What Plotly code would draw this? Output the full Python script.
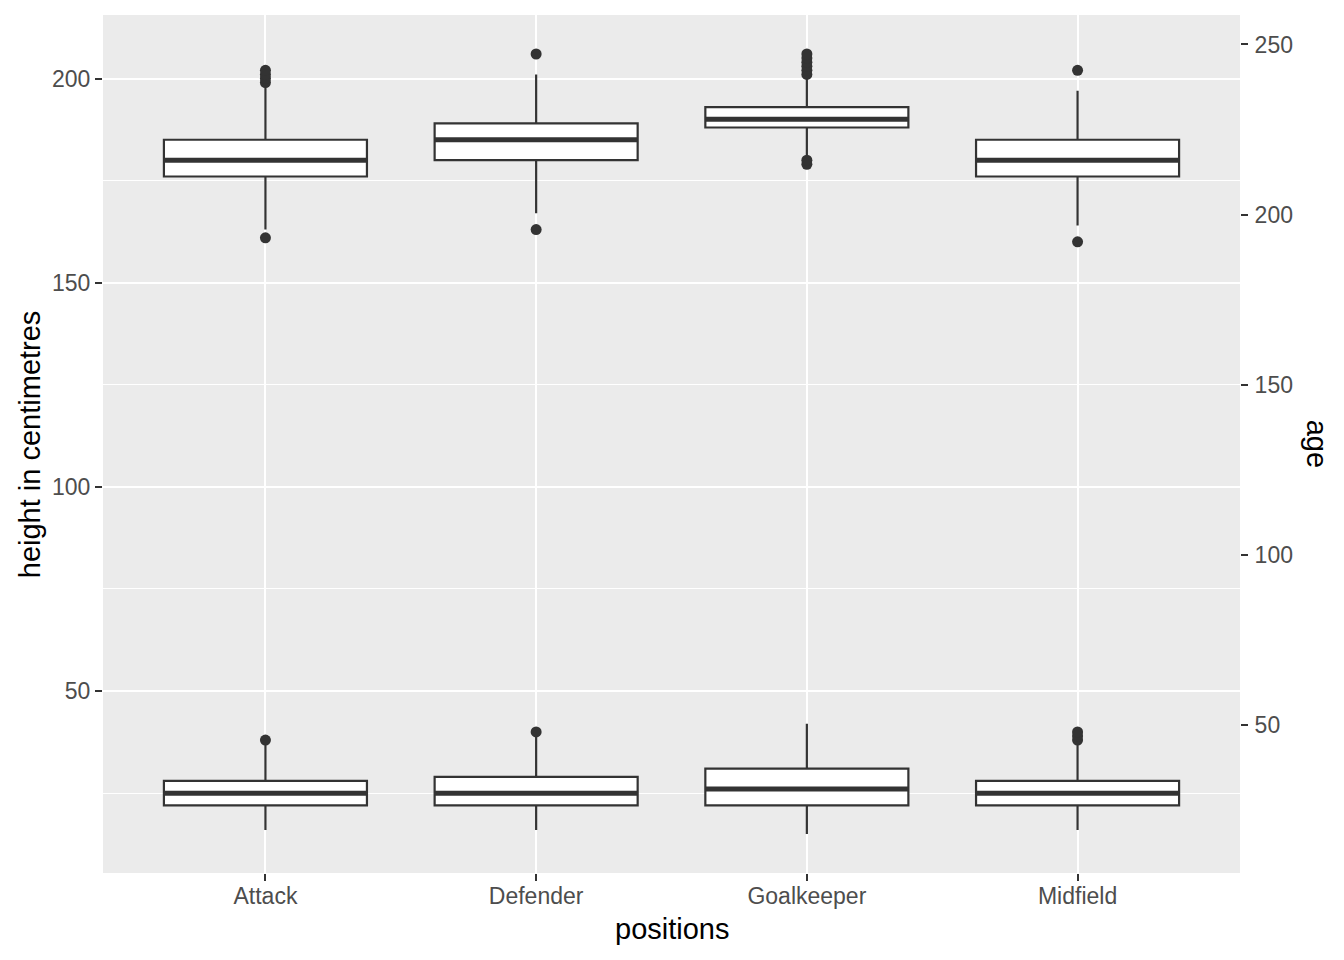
import plotly.graph_objects as go

# ---- data ----
positions = ["Attack", "Defender", "Goalkeeper", "Midfield"]

height_q1 = [176, 180, 188, 176]
height_median = [180, 185, 190, 180]
height_q3 = [185, 189, 193, 185]
height_lower = [163, 167, 181, 164]
height_upper = [198, 201, 200, 197]
height_outliers = {
    "Attack": [161, 199, 200, 201, 202],
    "Defender": [163, 206],
    "Goalkeeper": [179, 180, 201, 202, 203, 204, 205, 206],
    "Midfield": [160, 202],
}

age_q1 = [22, 22, 22, 22]
age_median = [25, 25, 26, 25]
age_q3 = [28, 29, 31, 28]
age_lower = [16, 16, 15, 16]
age_upper = [37, 39, 42, 37]
age_outliers = {
    "Attack": [38],
    "Defender": [40],
    "Goalkeeper": [],
    "Midfield": [38, 39, 40],
}

left_ticks = [50, 100, 150, 200]
left_minor = [25, 75, 125, 175]
right_ticks = [50, 100, 150, 200, 250]
sec_factor = 1.2

# ---- styling ----
DARK = "#333333"
BOX_W = 0.75
xpos = list(range(len(positions)))
FONT = "Liberation Sans, Arial, Helvetica, sans-serif"

fig = go.Figure()


def add_boxes(q1, med, q3, lo, hi, outliers):
    fig.add_trace(go.Box(
        x=xpos, q1=q1, median=med, q3=q3, lowerfence=lo, upperfence=hi,
        width=BOX_W, whiskerwidth=0, boxpoints=False,
        fillcolor="white", line=dict(color=DARK, width=2.2),
        showlegend=False, hoverinfo="skip",
    ))
    # thick median line (ggplot fatten)
    mx, my = [], []
    for i, m in zip(xpos, med):
        mx += [i - BOX_W / 2, i + BOX_W / 2, None]
        my += [m, m, None]
    fig.add_trace(go.Scatter(x=mx, y=my, mode="lines",
                             line=dict(color=DARK, width=5),
                             showlegend=False, hoverinfo="skip"))
    ox, oy = [], []
    for i, p in enumerate(positions):
        for v in outliers[p]:
            ox.append(i)
            oy.append(v)
    fig.add_trace(go.Scatter(x=ox, y=oy, mode="markers",
                             marker=dict(color=DARK, size=11, line=dict(width=0)),
                             showlegend=False, hoverinfo="skip"))


add_boxes(height_q1, height_median, height_q3, height_lower, height_upper, height_outliers)
add_boxes(age_q1, age_median, age_q3, age_lower, age_upper, age_outliers)

# y range: ggplot 5% expansion of data range
all_vals = (height_lower + height_upper + age_lower + age_upper
            + sum(height_outliers.values(), []) + sum(age_outliers.values(), []))
vmin, vmax = min(all_vals), max(all_vals)
pad = 0.05 * (vmax - vmin)
yrange = [vmin - pad, vmax + pad]

# invisible trace on secondary axis so it renders
fig.add_trace(go.Scatter(x=[0], y=[yrange[0] * sec_factor], yaxis="y2", mode="markers",
                         marker=dict(opacity=0), showlegend=False, hoverinfo="skip"))

tickfont = dict(family=FONT, size=23, color="#4D4D4D")

fig.update_layout(
    width=1336, height=952,
    margin=dict(l=95, r=104, t=7, b=87),
    paper_bgcolor="white", plot_bgcolor="#EBEBEB",
    font=dict(family=FONT),
    boxmode="overlay",
    xaxis=dict(
        range=[-0.6, len(positions) - 0.4],
        tickmode="array", tickvals=xpos, ticktext=positions,
        showgrid=True, gridcolor="white", gridwidth=2.2,
        zeroline=False, showline=False,
        ticks="outside", ticklen=7, tickwidth=2, tickcolor=DARK,
        tickfont=tickfont, automargin=False, ticklabelstandoff=-5,
    ),
    yaxis=dict(
        range=yrange,
        tickmode="array", tickvals=left_ticks,
        showgrid=True, gridcolor="white", gridwidth=2.2,
        minor=dict(tickmode="array", tickvals=left_minor, showgrid=True,
                   gridcolor="white", gridwidth=1.1, ticks=""),
        zeroline=False, showline=False,
        ticks="outside", ticklen=7, tickwidth=2, tickcolor=DARK,
        tickfont=tickfont, automargin=False,
    ),
    yaxis2=dict(
        overlaying="y", side="right",
        range=[yrange[0] * sec_factor, yrange[1] * sec_factor],
        tickmode="array", tickvals=right_ticks,
        showgrid=False, zeroline=False, showline=False,
        ticks="outside", ticklen=7, tickwidth=2, tickcolor=DARK,
        tickfont=tickfont, automargin=False, ticklabelstandoff=2,
    ),
    annotations=[
        dict(text="positions", xref="paper", yref="paper", x=0.5, y=-0.0653,
             xanchor="center", yanchor="middle", showarrow=False,
             font=dict(family=FONT, size=29, color="black")),
        dict(text="height in centimetres", xref="paper", yref="paper", x=-0.064, y=0.5,
             xanchor="center", yanchor="middle", textangle=-90, showarrow=False,
             font=dict(family=FONT, size=29, color="black")),
        dict(text="age", xref="paper", yref="paper", x=1.068, y=0.5,
             xanchor="center", yanchor="middle", textangle=90, showarrow=False,
             font=dict(family=FONT, size=29, color="black")),
    ],
)

fig.write_html("out.html")
